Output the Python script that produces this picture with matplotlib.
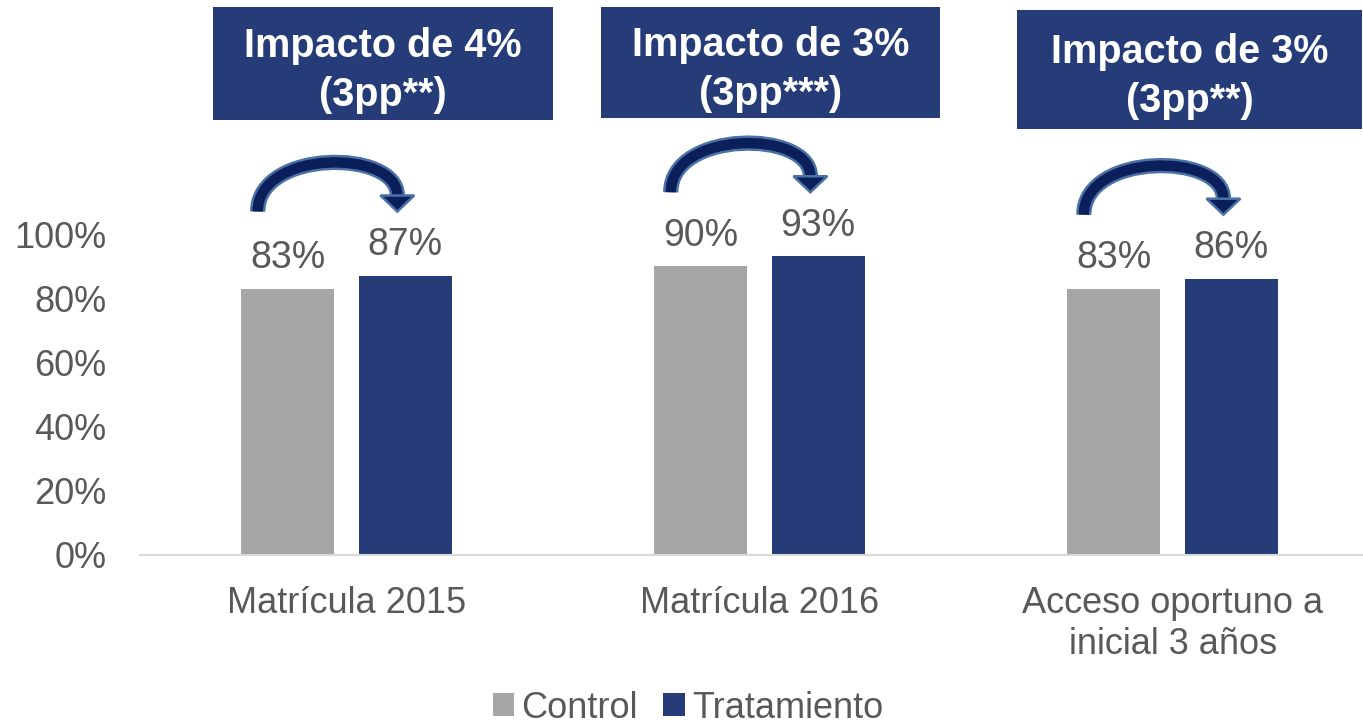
import matplotlib
matplotlib.use("Agg")
from matplotlib import pyplot as plt
from matplotlib.patches import Rectangle, PathPatch, Polygon
from matplotlib.path import Path
import numpy as np

# data
categories = ["Matrícula 2015", "Matrícula 2016", "Acceso oportuno a\ninicial 3 años"]
control = [83, 90, 83]
tratamiento = [87, 93, 86]
impact_titles = ["Impacto de 4%\n(3pp**)", "Impacto de 3%\n(3pp***)", "Impacto de 3%\n(3pp**)"]
yticks = [0, 20, 40, 60, 80, 100]

GRAY = "#A6A6A6"
NAVY = "#253C78"
TEXT = "#595959"
ARROW_IN = "#0B1F5B"
ARROW_OUT = "#4A72A6"

plt.rcParams['font.family'] = ['Liberation Sans', 'DejaVu Sans']

fig = plt.figure(figsize=(13.63, 7.23), dpi=100)
ax = fig.add_axes([140 / 1363, 168 / 723, 1 - 140 / 1363, 555 / 723])

x = np.arange(len(categories))
w = 0.225
off = 0.142
b1 = ax.bar(x - off, control, w, color=GRAY, label="Control")
b2 = ax.bar(x + off, tratamiento, w, color=NAVY, label="Tratamiento")

for bars, vals in ((b1, control), (b2, tratamiento)):
    for rect, v in zip(bars, vals):
        ax.annotate(f"{v}%", (rect.get_x() + rect.get_width() / 2, v),
                    xytext=(0, 9), textcoords="offset points",
                    ha="center", va="bottom", fontsize=27, color=TEXT)

ax.set_xlim(-0.5, 2.461)
ax.set_ylim(0, 172.9)
ax.set_yticks(yticks)
ax.set_yticklabels([f"{t}%" for t in yticks])
ax.set_xticks(x)
ax.set_xticklabels(categories, linespacing=1.25)
ax.tick_params(axis="y", length=0, pad=24, labelsize=26, labelcolor=TEXT)
ax.tick_params(axis="x", length=0, pad=22, labelsize=26, labelcolor=TEXT)
for s in ("top", "right", "left"):
    ax.spines[s].set_visible(False)
ax.spines["bottom"].set_color("#D9D9D9")
ax.spines["bottom"].set_linewidth(1.5)

# curved arrows from control to treatment
for i in range(len(categories)):
    yb = max(control[i], tratamiento[i]) + 20
    xt = i - 0.215
    xh = i + 0.123
    hb = yb + 5
    verts = [(xt, yb), (xt, yb + 19.5), (xh, yb + 19.5), (xh, hb)]
    codes = [Path.MOVETO, Path.CURVE4, Path.CURVE4, Path.CURVE4]
    ax.add_patch(PathPatch(Path(verts, codes), fill=False, ec=ARROW_OUT, lw=11,
                           capstyle="butt", clip_on=False))
    ax.add_patch(PathPatch(Path(verts, codes), fill=False, ec=ARROW_IN, lw=7.5,
                           capstyle="butt", clip_on=False))
    ax.add_patch(Polygon([(xh - 0.041, hb), (xh + 0.041, hb), (xh, yb)],
                         closed=True, fc=ARROW_IN, ec=ARROW_OUT, lw=1.8,
                         clip_on=False))

# impact boxes (pixel layout: left, top, right, bottom)
boxes = [(213, 7, 553, 120), (601, 7, 940, 118), (1017, 10, 1362, 129)]
for (l, t, r, b), title in zip(boxes, impact_titles):
    fig.patches.append(Rectangle((l / 1363, 1 - b / 723), (r - l) / 1363, (b - t) / 723,
                                 transform=fig.transFigure, fc=NAVY, ec="none"))
    fig.text((l + r) / 2 / 1363, 1 - ((t + b) / 2 + 7) / 723, title, ha="center", va="center",
             fontsize=28.5, fontweight="bold", color="white", linespacing=1.35)

leg = fig.legend(handles=[b1, b2], loc="center", bbox_to_anchor=(688 / 1363, 1 - 708 / 723),
                 ncol=2, frameon=False, fontsize=26, handlelength=0.6, handleheight=0.6,
                 handletextpad=0.2, columnspacing=0.7, borderpad=0)
for t in leg.get_texts():
    t.set_color(TEXT)

fig.savefig("out.png", dpi=100)
